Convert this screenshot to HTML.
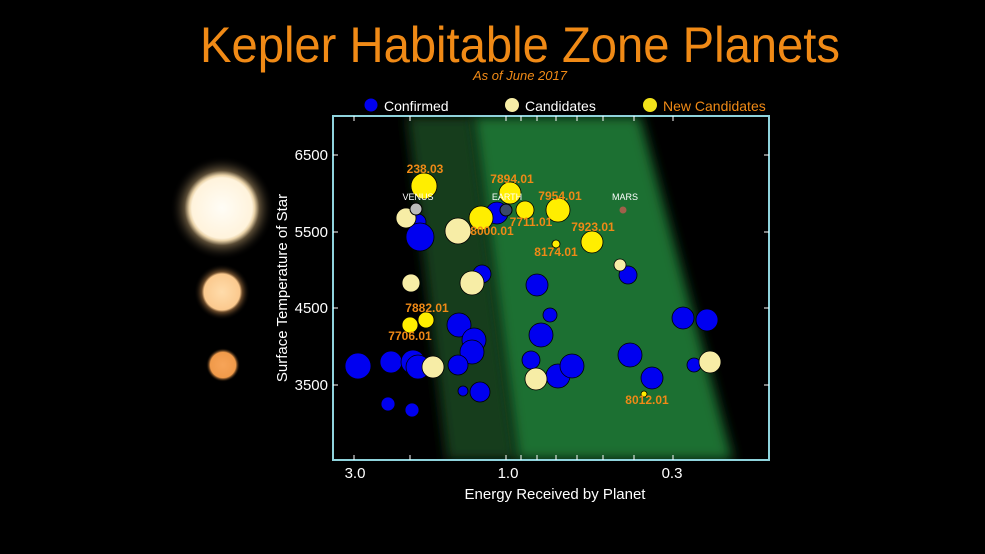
<!DOCTYPE html>
<html><head><meta charset="utf-8"><style>html,body{margin:0;padding:0;background:#000}svg{display:block}</style></head>
<body>
<svg width="985" height="554" viewBox="0 0 985 554" xmlns="http://www.w3.org/2000/svg" font-family="Liberation Sans, sans-serif">
<defs>
<radialGradient id="s1"><stop offset="0" stop-color="#fffdf6"/><stop offset="0.58" stop-color="#fff3dc"/><stop offset="0.63" stop-color="#e9d2a8"/><stop offset="0.72" stop-color="#5a4c36"/><stop offset="1" stop-color="#000" stop-opacity="0"/></radialGradient>
<radialGradient id="s2"><stop offset="0" stop-color="#ffdcab"/><stop offset="0.64" stop-color="#fbc98e"/><stop offset="0.72" stop-color="#6a4a2a"/><stop offset="1" stop-color="#000" stop-opacity="0"/></radialGradient>
<radialGradient id="s3"><stop offset="0" stop-color="#f7a458"/><stop offset="0.75" stop-color="#f09a4a"/><stop offset="1" stop-color="#000" stop-opacity="0"/></radialGradient>
<filter id="bl"><feGaussianBlur stdDeviation="6"/></filter>
<clipPath id="pc"><rect x="333" y="116" width="436" height="344"/></clipPath>
</defs>
<rect width="985" height="554" fill="#000"/>
<text x="200" y="62" font-size="50" fill="#f08a16" textLength="640" lengthAdjust="spacingAndGlyphs">Kepler Habitable Zone Planets</text>
<text x="520" y="80" font-size="13" font-style="italic" fill="#f08a16" text-anchor="middle">As of June 2017</text>
<circle cx="371" cy="105" r="7" fill="#0000f0" stroke="#000"/>
<text x="384" y="111" font-size="14" fill="#fff">Confirmed</text>
<circle cx="512" cy="105" r="7" fill="#f7eda6"/>
<text x="525" y="111" font-size="14" fill="#fff">Candidates</text>
<circle cx="650" cy="105" r="7" fill="#f2e21a"/>
<text x="663" y="111" font-size="14" fill="#f08a16">New Candidates</text>
<circle cx="222" cy="208" r="52" fill="url(#s1)"/>
<circle cx="222" cy="292" r="28" fill="url(#s2)"/>
<circle cx="223" cy="365" r="17" fill="url(#s3)"/>
<g clip-path="url(#pc)">
<polygon points="407,116 473,116 517,460 447,460" fill="#143d1a" filter="url(#bl)"/>
<polygon points="473,116 640,116 733,460 517,460" fill="#1a7030" filter="url(#bl)"/>
</g>
<rect x="333" y="116" width="436" height="344" fill="none" stroke="#8fd3dc" stroke-width="2"/>
<g stroke="#fff" stroke-width="1">
<line x1="333" y1="155" x2="338" y2="155"/><line x1="333" y1="232" x2="338" y2="232"/><line x1="333" y1="308" x2="338" y2="308"/><line x1="333" y1="385" x2="338" y2="385"/>
<line x1="769" y1="155" x2="764" y2="155"/><line x1="769" y1="232" x2="764" y2="232"/><line x1="769" y1="308" x2="764" y2="308"/><line x1="769" y1="385" x2="764" y2="385"/>
<g id="xt"><line x1="354" y1="460" x2="354" y2="455"/><line x1="410" y1="460" x2="410" y2="455"/><line x1="506" y1="460" x2="506" y2="455"/><line x1="521" y1="460" x2="521" y2="455"/><line x1="537" y1="460" x2="537" y2="455"/><line x1="556" y1="460" x2="556" y2="455"/><line x1="577" y1="460" x2="577" y2="455"/><line x1="603" y1="460" x2="603" y2="455"/><line x1="634" y1="460" x2="634" y2="455"/><line x1="673" y1="460" x2="673" y2="455"/></g>
<use href="#xt" transform="translate(0,576) scale(1,-1)"/>
</g>
<g font-size="15" fill="#fff" text-anchor="end">
<text x="328" y="160">6500</text><text x="328" y="237">5500</text><text x="328" y="313">4500</text><text x="328" y="390">3500</text></g>
<g font-size="15" fill="#fff" text-anchor="middle">
<text x="355" y="478">3.0</text><text x="508" y="478">1.0</text><text x="672" y="478">0.3</text>
<text x="555" y="499">Energy Received by Planet</text>
<text transform="translate(287,288) rotate(-90)">Surface Temperature of Star</text></g>
<g stroke="#000" stroke-width="0.8" fill="#0000f0">
<circle cx="358" cy="366" r="13"/><circle cx="391" cy="362" r="11"/><circle cx="413" cy="362" r="12"/><circle cx="418" cy="367" r="12"/>
<circle cx="418" cy="222" r="8"/><circle cx="420" cy="237" r="14"/>
<circle cx="459" cy="325" r="12"/><circle cx="474" cy="340" r="12"/><circle cx="472" cy="352" r="12"/><circle cx="458" cy="365" r="10"/>
<circle cx="463" cy="391" r="5"/><circle cx="480" cy="392" r="10"/><circle cx="482" cy="274" r="9"/><circle cx="537" cy="285" r="11"/>
<circle cx="550" cy="315" r="7"/><circle cx="541" cy="335" r="12"/><circle cx="531" cy="360" r="9"/><circle cx="558" cy="376" r="12"/>
<circle cx="572" cy="366" r="12"/><circle cx="630" cy="355" r="12"/><circle cx="628" cy="275" r="9"/><circle cx="652" cy="378" r="11"/>
<circle cx="683" cy="318" r="11"/><circle cx="707" cy="320" r="11"/><circle cx="694" cy="365" r="7"/><circle cx="388" cy="404" r="7"/>
<circle cx="412" cy="410" r="7"/><circle cx="497" cy="213" r="11"/>
</g>
<g stroke="#000" stroke-width="0.8" fill="#f7eda6">
<circle cx="406" cy="218" r="10"/><circle cx="458" cy="231" r="13"/><circle cx="411" cy="283" r="9"/><circle cx="472" cy="283" r="12"/>
<circle cx="433" cy="367" r="11"/><circle cx="536" cy="379" r="11"/><circle cx="620" cy="265" r="6"/><circle cx="710" cy="362" r="11"/>
</g>
<circle cx="506" cy="210" r="6" fill="#3a4a6a" stroke="#000"/>
<circle cx="416" cy="209" r="6" fill="#bbb" stroke="#000"/>
<circle cx="623" cy="210" r="3.5" fill="#a0604a"/>
<g stroke="#000" stroke-width="0.8" fill="#ffee00">
<circle cx="424" cy="186" r="13"/><circle cx="510" cy="193" r="11"/><circle cx="481" cy="218" r="12"/><circle cx="525" cy="210" r="9"/>
<circle cx="558" cy="210" r="12"/><circle cx="556" cy="244" r="4"/><circle cx="592" cy="242" r="11"/><circle cx="410" cy="325" r="8"/>
<circle cx="426" cy="320" r="8"/><circle cx="644" cy="394" r="3"/>
</g>
<g font-size="9" fill="#fff" text-anchor="middle"><text x="418" y="200">VENUS</text><text x="507" y="200">EARTH</text><text x="625" y="200">MARS</text></g>
<g font-size="12" font-weight="bold" fill="#f08a16" text-anchor="middle">
<text x="425" y="173">238.03</text><text x="512" y="183">7894.01</text><text x="560" y="200">7954.01</text>
<text x="531" y="226">7711.01</text><text x="492" y="235">8000.01</text><text x="593" y="231">7923.01</text>
<text x="556" y="256">8174.01</text><text x="427" y="312">7882.01</text><text x="410" y="340">7706.01</text>
<text x="647" y="404">8012.01</text></g>
</svg>
</body></html>
